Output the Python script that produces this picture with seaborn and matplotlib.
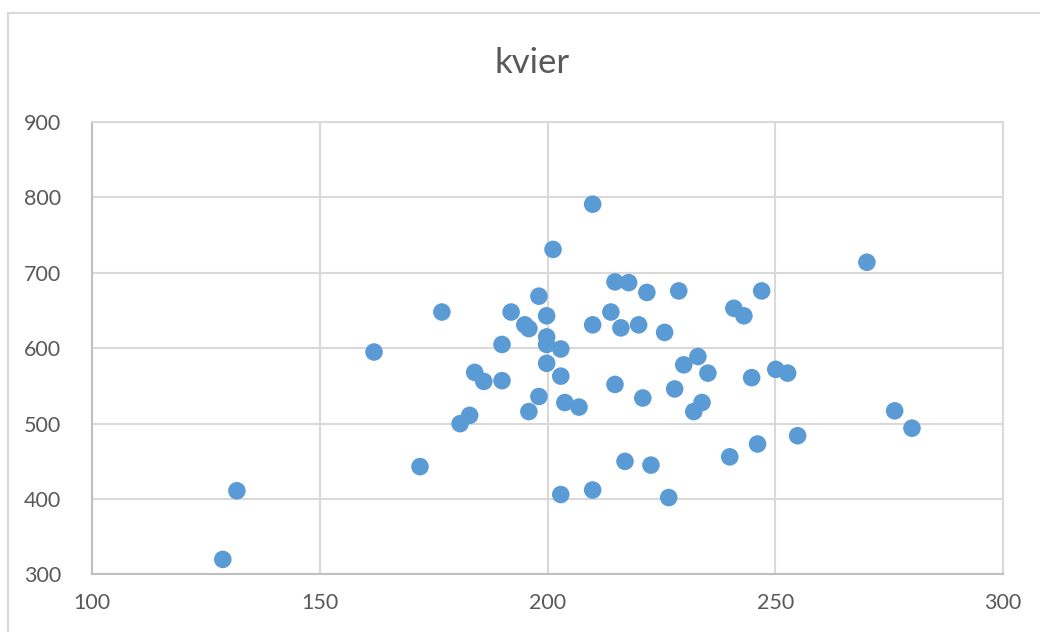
import pandas as pd
import matplotlib.pyplot as plt
import seaborn as sns
from matplotlib.patches import Rectangle

# values
x_vals = [128.7, 131.8, 161.9, 172.0, 176.8, 180.8, 182.9, 184.0, 186.0, 190.0,
          190.0, 192.0, 195.0, 195.9, 195.9, 198.1, 198.1, 199.8, 199.8, 199.8,
          199.8, 201.2, 202.9, 202.9, 203.8, 202.9, 206.9, 209.9, 209.9, 209.9,
          213.9, 214.8, 214.8, 216.1, 217.0, 217.8, 220.0, 220.9, 221.8, 222.7,
          225.7, 226.6, 227.9, 228.8, 229.9, 233.0, 232.1, 233.9, 235.2, 240.0,
          240.9, 243.1, 244.8, 246.1, 247.0, 250.1, 252.7, 254.9, 270.1, 276.2,
          280.0]
y_vals = [320, 411, 595, 443, 648, 500, 511, 568, 556, 605,
          557, 648, 631, 626, 516, 669, 536, 643, 615, 605,
          580, 731, 599, 563, 528, 406, 522, 791, 631, 412,
          648, 552, 688, 627, 450, 687, 631, 534, 674, 445,
          621, 402, 546, 676, 578, 589, 516, 528, 567, 456,
          653, 643, 561, 473, 676, 572, 567, 484, 714, 517,
          494]

data = pd.DataFrame({'x': x_vals, 'y': y_vals})

sns.set_style('white')
plt.rcParams['font.family'] = ['Lato', 'DejaVu Sans']

fig = plt.figure(figsize=(10.4, 6.32), dpi=100)
ax = fig.add_axes([0.0885, 0.091, 0.876, 0.716])

# chart border like the spreadsheet frame
fig.patches.append(Rectangle((0.008, -0.1), 1.2, 1.079, transform=fig.transFigure,
                             fill=False, edgecolor='#D9D9D9', linewidth=1.5))

sns.scatterplot(data=data, x='x', y='y', ax=ax, color='#5B9BD5', s=160,
                edgecolor='none', zorder=3)

ax.set_xlim(100, 300)
ax.set_ylim(300, 900)
ax.set_xticks([100, 150, 200, 250, 300])
ax.set_yticks([300, 400, 500, 600, 700, 800, 900])
ax.grid(True, color='#D9D9D9', linewidth=1.5)
ax.set_axisbelow(True)

for side in ['top', 'right']:
    ax.spines[side].set_color('#D9D9D9')
    ax.spines[side].set_linewidth(1.5)
for side in ['left', 'bottom']:
    ax.spines[side].set_color('#BFBFBF')
    ax.spines[side].set_linewidth(1.5)

ax.tick_params(axis='y', length=4, color='#BFBFBF', width=1.2, pad=18,
               labelsize=15.5, labelcolor='#595959')
ax.tick_params(axis='x', length=0, pad=13, labelsize=15.5, labelcolor='#595959')
ax.set_xlabel('')
ax.set_ylabel('')

fig.text(0.512, 0.9, 'kvier', ha='center', va='center', fontsize=25,
         color='#595959')

plt.savefig('out.png', dpi=100)
